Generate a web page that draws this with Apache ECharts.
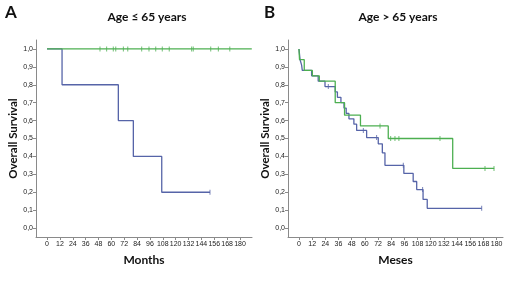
<!DOCTYPE html>
<html>
<head>
<meta charset="utf-8">
<script src="https://cdn.jsdelivr.net/npm/echarts@6/dist/echarts.min.js"></script>
<style>
  html, body { margin: 0; padding: 0; background: #fff; }
  #chart { width: 520px; height: 292px; }
</style>
</head>
<body>
<div id="chart"></div>
<script>
// month ticks and survival ticks
var monthTicks = [0, 12, 24, 36, 48, 60, 72, 84, 96, 108, 120, 132, 144, 156, 168, 180];
var survTicks = [0, 0.1, 0.2, 0.3, 0.4, 0.5, 0.6, 0.7, 0.8, 0.9, 1.0];

// panel A (age <= 65): [month, survival after drop]
var blueA = [[0, 1.0], [14, 0.8], [66.5, 0.6], [80.5, 0.4], [107, 0.2], [152, 0.2]];
var greenA = [[0, 1.0], [191, 1.0]];
var blueACens = [[152, 0.2]];
var greenACens = [[49.4, 1], [55.6, 1], [61.8, 1], [64.1, 1], [71.2, 1], [75.3, 1], [88.3, 1], [95.1, 1],
  [101.4, 1], [107.5, 1], [114, 1], [134.9, 1], [136.4, 1], [152.7, 1], [159.8, 1], [170.5, 1]];

// panel B (age > 65)
var blueB = [[0, 1.0], [1, 0.94], [2.4, 0.91], [3, 0.88], [11.5, 0.85], [17.5, 0.82], [23.7, 0.79],
  [33, 0.76], [35, 0.73], [38.2, 0.70], [41, 0.67], [43, 0.64], [45.5, 0.61], [50, 0.58], [52.5, 0.545],
  [61.6, 0.505], [72.2, 0.47], [75.9, 0.42], [78.3, 0.35], [95.5, 0.305], [104, 0.26], [107.2, 0.215],
  [113, 0.16], [116.8, 0.11], [166.4, 0.11]];
var greenB = [[0, 1.0], [0.5, 0.94], [4.8, 0.88], [12.2, 0.85], [18.5, 0.82], [33, 0.70], [41.5, 0.63],
  [56, 0.57], [81.3, 0.50], [140, 0.333], [177.8, 0.333]];
var blueBCens = [[26.7, 0.79], [58.6, 0.545], [70.7, 0.505], [95, 0.35], [112.6, 0.215], [166.4, 0.11]];
var greenBCens = [[73.8, 0.57], [83.5, 0.5], [87.4, 0.5], [91, 0.5], [128.4, 0.5], [169.4, 0.333], [177.6, 0.333]];

var blue = '#5664a8';
var green = '#4caf50';
var axisGrey = '#8a8a8a';

var myChart = echarts.init(document.getElementById('chart'));

function xAx(idx, min, max, name) {
  return {
    type: 'value', gridIndex: idx, min: min, max: max,
    name: name, nameLocation: 'middle', nameGap: 17,
    nameTextStyle: { fontFamily: 'Lato', fontWeight: 'bold', fontSize: 12, color: '#111' },
    axisLine: { show: true, onZero: false, lineStyle: { color: axisGrey, width: 1 } },
    axisTick: { show: true, length: 3, customValues: monthTicks, lineStyle: { color: axisGrey } },
    axisLabel: { customValues: monthTicks, fontSize: 7, color: '#222', margin: 4, fontFamily: 'Liberation Sans' },
    splitLine: { show: false }
  };
}
function yAx(idx) {
  return {
    type: 'value', gridIndex: idx, min: -0.05, max: 1.05,
    name: 'Overall Survival', nameLocation: 'middle', nameGap: 16,
    nameTextStyle: { fontFamily: 'Lato', fontWeight: 'bold', fontSize: 11.5, color: '#111' },
    axisLine: { show: true, onZero: false, lineStyle: { color: axisGrey, width: 1 } },
    axisTick: { show: true, length: 3, customValues: survTicks, lineStyle: { color: axisGrey } },
    axisLabel: {
      customValues: survTicks, fontSize: 7, color: '#222', margin: 3, fontFamily: 'Liberation Sans',
      formatter: function (v) { return v.toFixed(1).replace('.', ','); }
    },
    splitLine: { show: false }
  };
}
function stepLine(idx, data, color) {
  return {
    type: 'line', xAxisIndex: idx, yAxisIndex: idx, data: data, step: 'end',
    showSymbol: false, symbol: 'none', lineStyle: { color: color, width: 1.3 }, silent: true
  };
}
function cens(idx, data, color) {
  return {
    type: 'scatter', xAxisIndex: idx, yAxisIndex: idx, data: data,
    symbol: 'rect', symbolSize: [1, 5], itemStyle: { color: color }, silent: true
  };
}

var option = {
  animation: false,
  backgroundColor: '#fff',
  title: [
    { text: 'Age ≤ 65 years', left: 142, top: 6, textAlign: 'center',
      textStyle: { fontFamily: 'Lato', fontWeight: 'bold', fontSize: 12, color: '#111' } },
    { text: 'Age > 65 years', left: 393, top: 6, textAlign: 'center',
      textStyle: { fontFamily: 'Lato', fontWeight: 'bold', fontSize: 12, color: '#111' } }
  ],
  graphic: [
    { type: 'text', left: 5, top: 4, style: { text: 'A', font: 'bold 17px Lato', fill: '#111' } },
    { type: 'text', left: 264, top: 4, style: { text: 'B', font: 'bold 17px Lato', fill: '#111' } }
  ],
  grid: [
    { left: 36, top: 40, width: 216, height: 197 },
    { left: 288, top: 40, width: 215, height: 197 }
  ],
  xAxis: [xAx(0, -10.3, 191.2, 'Months'), xAx(1, -10, 185.8, 'Meses')],
  yAxis: [yAx(0), yAx(1)],
  series: [
    stepLine(0, blueA, blue),
    stepLine(0, greenA, green),
    cens(0, blueACens, blue),
    cens(0, greenACens, green),
    stepLine(1, blueB, blue),
    stepLine(1, greenB, green),
    cens(1, blueBCens, blue),
    cens(1, greenBCens, green)
  ]
};
myChart.setOption(option);
window.addEventListener('resize', function () { myChart.resize(); });
</script>
</body>
</html>
